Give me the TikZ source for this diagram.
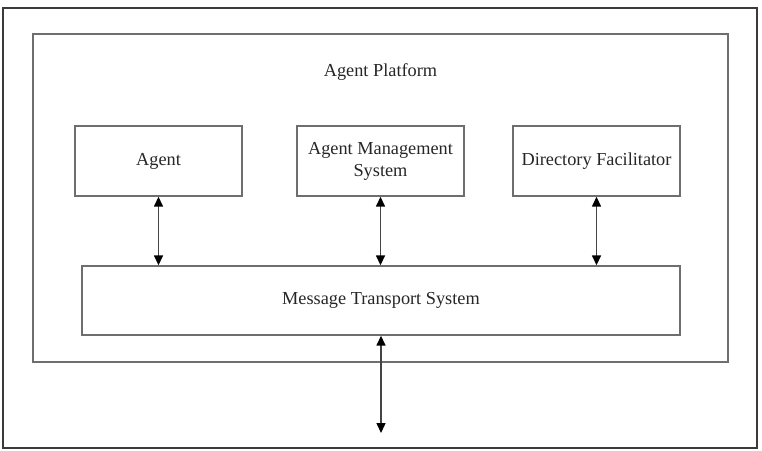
\documentclass[tikz,border=0pt]{standalone}
\usepackage{fontspec}
\setmainfont{Liberation Serif}
\usetikzlibrary{arrows.meta}
\definecolor{boxgray}{HTML}{6E6E6E}
\definecolor{linegray}{HTML}{444444}
\definecolor{framegray}{HTML}{3A3A3A}
\begin{document}
\begin{tikzpicture}[x=1pt,y=-1pt,
  lbl/.style={font=\fontsize{18.3}{22}\selectfont,text=black!85,align=center},
  box/.style={lbl,draw=boxgray,line width=1.4pt,inner sep=0pt},
  link/.style={draw=linegray,line width=1.5pt,
    {Triangle[length=10pt,width=9pt,color=black]}-{Triangle[length=10pt,width=9pt,color=black]}}]
\useasboundingbox (0,0) rectangle (762,450);
\draw[framegray,line width=1.3pt] (3,8) rectangle (757,448);
\node[box,minimum width=695pt,minimum height=328pt] (platform) at (380.5,198) {};
\node[lbl] (platlabel) at (380.5,72) {Agent Platform};
\node[box,minimum width=167pt,minimum height=70pt] (agent) at (158.5,161) {Agent};
\node[box,minimum width=167pt,minimum height=70pt] (ams) at (380.5,161) {Agent Management\\System};
\node[box,minimum width=167pt,minimum height=70pt] (df) at (596.5,161) {Directory Facilitator};
\node[box,minimum width=598pt,minimum height=69pt] (mts) at (381,300.5) {Message Transport System};
\coordinate (ext) at (381,433);
\draw[link] (agent.south) -- (agent.south |- mts.north);
\draw[link] (ams.south) -- (ams.south |- mts.north);
\draw[link] (df.south) -- (df.south |- mts.north);
\draw[link] (mts.south -| ext) -- (ext);
\end{tikzpicture}
\end{document}
